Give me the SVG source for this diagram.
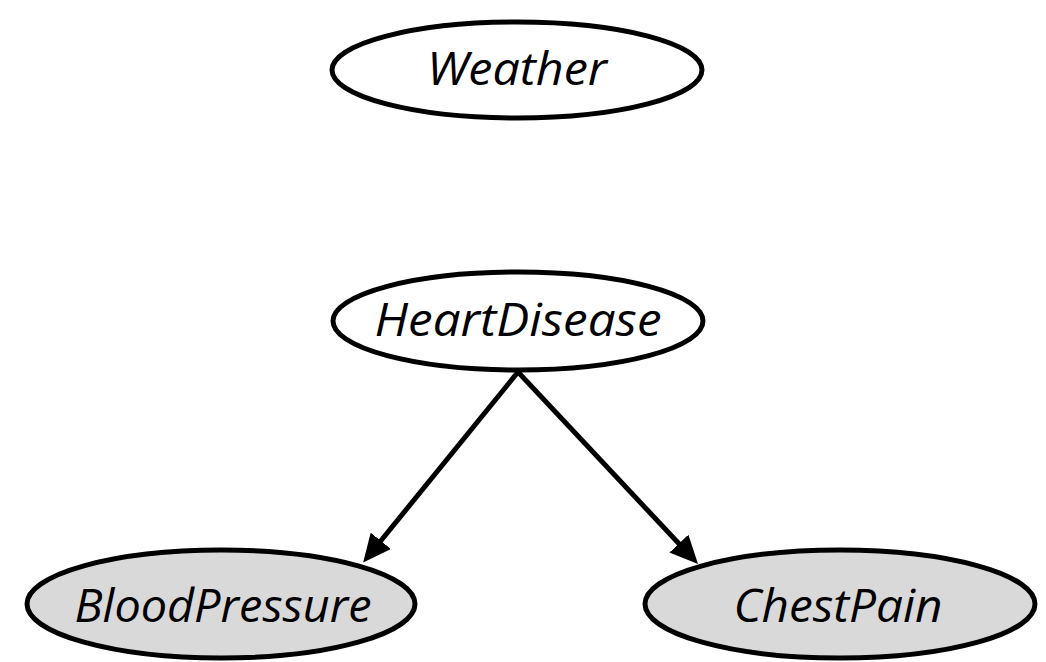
<svg xmlns="http://www.w3.org/2000/svg" width="1046" height="662" viewBox="0 0 1046 662">
  <style>
    .node { stroke: #000; stroke-width: 5; }
    .plain { fill: #fff; }
    .observed { fill: #d9d9d9; }
    .label { font-family: "Open Sans", "Noto Sans", "Liberation Sans", sans-serif; font-style: italic; font-size: 46px; fill: #000; text-anchor: middle; }
    .edge { stroke: #000; stroke-width: 5; fill: none; marker-end: url(#arrow); }
  </style>
  <defs>
    <marker id="arrow" markerUnits="userSpaceOnUse" markerWidth="28" markerHeight="26" refX="6" refY="13" orient="auto">
      <path d="M0,0 L28,13 L0,26 z" fill="#000"/>
    </marker>
  </defs>
  <rect width="1046" height="662" fill="#fff"/>

  <g id="weather">
    <ellipse class="node plain" cx="517" cy="70" rx="185" ry="48"/>
    <text class="label" x="517" y="85" textLength="180" lengthAdjust="spacingAndGlyphs">Weather</text>
  </g>

  <g id="heart-disease">
    <ellipse class="node plain" cx="518" cy="321" rx="185" ry="49"/>
    <text class="label" x="518" y="336" textLength="287" lengthAdjust="spacingAndGlyphs">HeartDisease</text>
  </g>

  <g id="blood-pressure">
    <ellipse class="node observed" cx="221" cy="604" rx="194" ry="54"/>
    <text class="label" x="223" y="622" textLength="297" lengthAdjust="spacingAndGlyphs">BloodPressure</text>
  </g>

  <g id="chest-pain">
    <ellipse class="node observed" cx="840" cy="604" rx="195" ry="54"/>
    <text class="label" x="838" y="622" textLength="209" lengthAdjust="spacingAndGlyphs">ChestPain</text>
  </g>

  <g id="edges">
    <line class="edge" x1="518" y1="372" x2="377" y2="545.5"/>
    <line class="edge" x1="518" y1="372" x2="683" y2="548"/>
  </g>
</svg>
